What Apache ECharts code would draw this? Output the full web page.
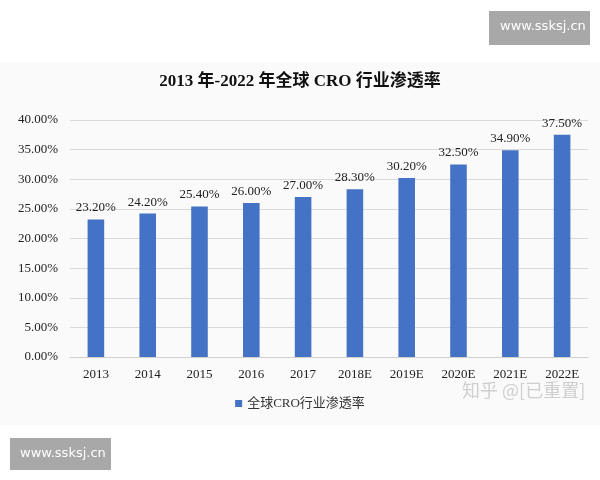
<!DOCTYPE html>
<html>
<head>
<meta charset="utf-8">
<script src="https://cdn.jsdelivr.net/npm/echarts@6/dist/echarts.min.js"></script>
<style>html,body{margin:0;padding:0;background:#fff}#main{width:600px;height:480px}</style>
</head>
<body>
<div id="main"></div>
<script>
var years = ['2013', '2014', '2015', '2016', '2017', '2018E', '2019E', '2020E', '2021E', '2022E'];
var rates = [23.2, 24.2, 25.4, 26.0, 27.0, 28.3, 30.2, 32.5, 34.9, 37.5];

var myChart = echarts.init(document.getElementById('main'));
var serif = '"Liberation Serif", "Noto Sans CJK SC", serif';

var option = {
    backgroundColor: '#fff',
    title: {
        text: '2013 年-2022 年全球 CRO 行业渗透率',
        left: 'center',
        top: 68,
        textStyle: {fontFamily: serif, fontSize: 17, fontWeight: 'bold', color: '#111'}
    },
    graphic: [
        {type: 'rect', z: -10, shape: {x: 0, y: 62, width: 600, height: 363}, style: {fill: '#fafafa'}},
        {type: 'rect', shape: {x: 489, y: 11, width: 101, height: 34}, style: {fill: '#a8a8a8'}},
        {type: 'text', left: 500, top: 20, style: {text: 'www.ssksj.cn', fill: '#fff', font: '13px "DejaVu Sans"'}},
        {type: 'rect', shape: {x: 10, y: 438, width: 101, height: 32}, style: {fill: '#a8a8a8'}},
        {type: 'text', left: 20, top: 447, style: {text: 'www.ssksj.cn', fill: '#fff', font: '13px "DejaVu Sans"'}},
        {type: 'text', left: 462, top: 381, style: {text: '知乎 @[已重置]', fill: '#cfcfcf', font: '18px "Noto Sans CJK SC"'}}
    ],
    legend: {
        bottom: 65,
        left: 'center',
        itemWidth: 7,
        itemHeight: 7,
        icon: 'rect',
        textStyle: {fontFamily: serif, fontSize: 13, color: '#333'}
    },
    grid: {left: 70, right: 12, top: 120, bottom: 123},
    xAxis: {
        type: 'category',
        data: years,
        axisTick: {show: false},
        axisLine: {lineStyle: {color: '#d0d0d0'}},
        axisLabel: {fontFamily: serif, fontSize: 13, color: '#222', margin: 11}
    },
    yAxis: {
        type: 'value',
        min: 0,
        max: 40,
        interval: 5,
        axisLabel: {fontFamily: serif, fontSize: 13, color: '#222', margin: 12,
            formatter: function (v) { return v.toFixed(2) + '%'; }},
        splitLine: {lineStyle: {color: '#d9d9d9'}}
    },
    series: [{
        name: '全球CRO行业渗透率',
        type: 'bar',
        barWidth: '32%',
        data: rates,
        itemStyle: {color: '#4472C4'},
        label: {
            show: true,
            position: 'top',
            fontFamily: serif,
            fontSize: 13,
            color: '#222',
            formatter: function (p) { return p.value.toFixed(2) + '%'; }
        }
    }]
};
myChart.setOption(option, true);
</script>
</body>
</html>
